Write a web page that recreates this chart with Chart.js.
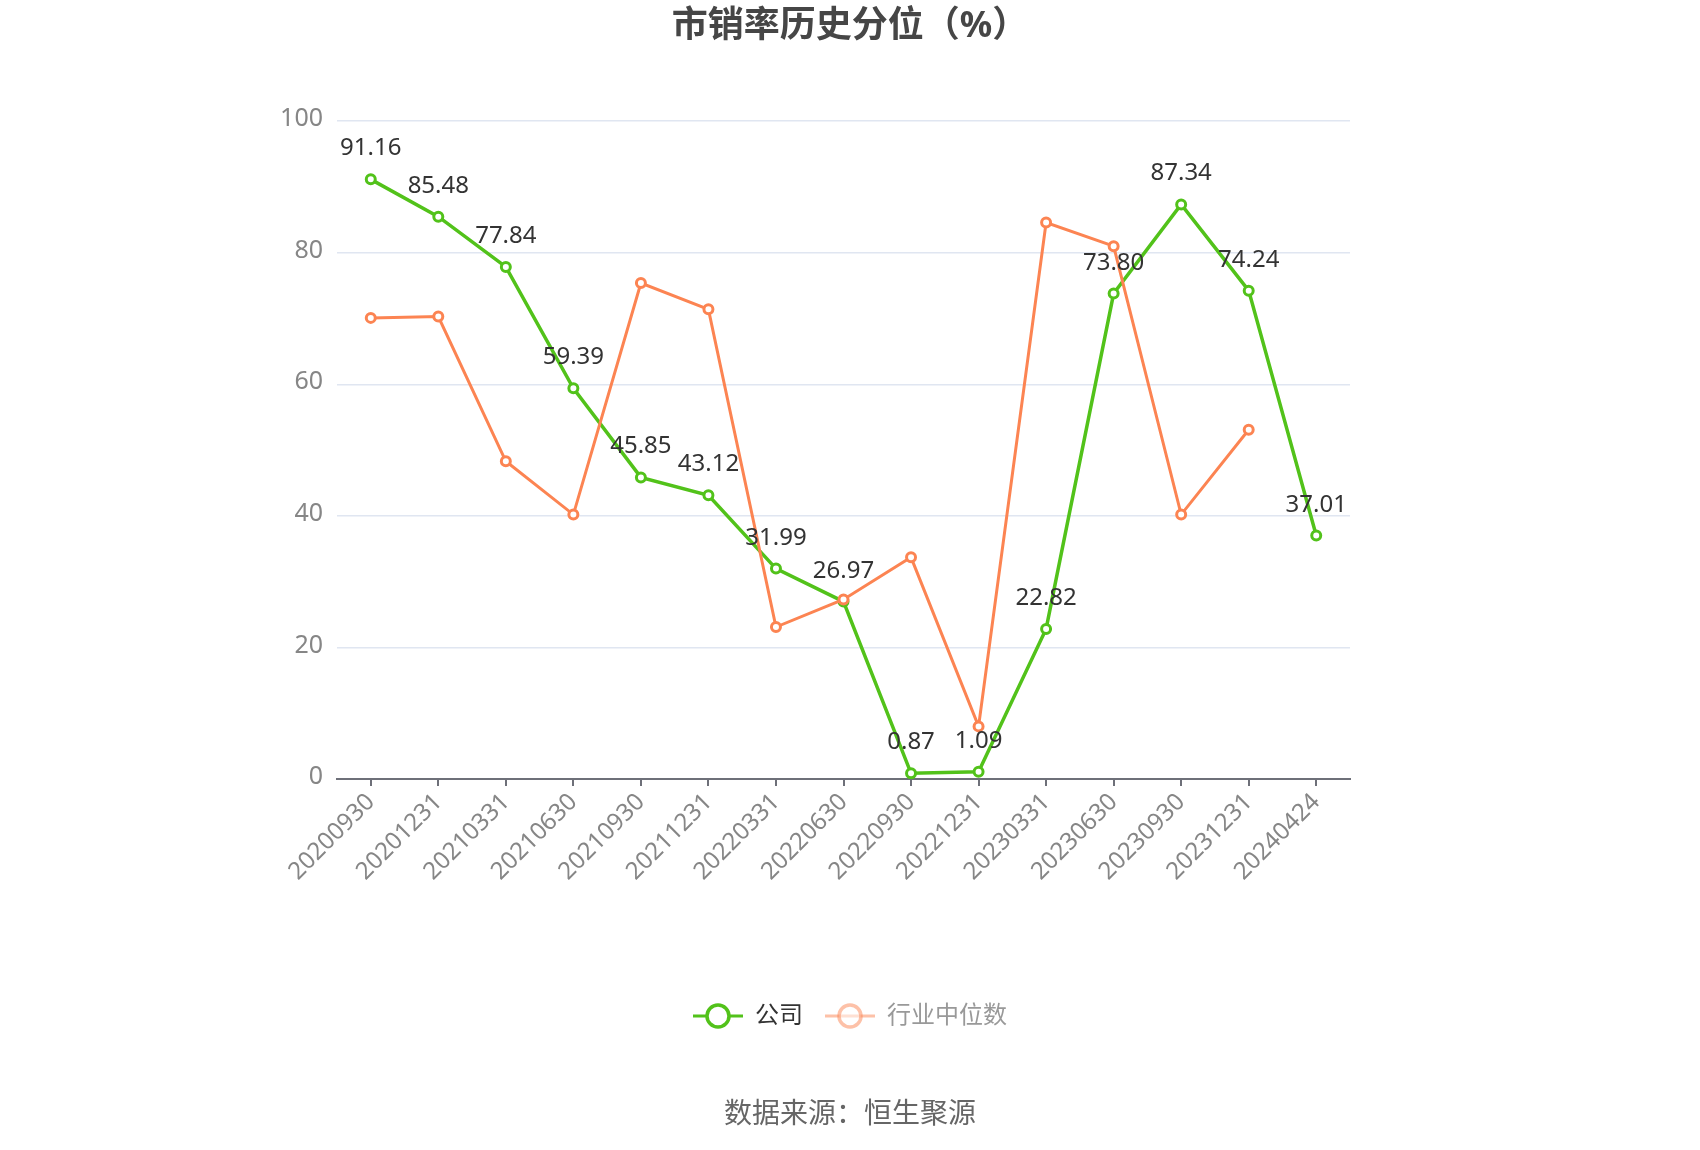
<!DOCTYPE html>
<html>
<head>
<meta charset="utf-8">
<script src="https://cdn.jsdelivr.net/npm/chart.js@4.4.1/dist/chart.umd.min.js"></script>
<style>
    html, body { margin: 0; padding: 0; background: #fff; }
    #wrap { width: 1700px; height: 1150px; }
</style>
</head>
<body>
<div id="wrap"><canvas id="chart" width="1700" height="1150"></canvas></div>
<script>
// == Data ==
const categories = ['20200930', '20201231', '20210331', '20210630', '20210930', '20211231', '20220331', '20220630',
    '20220930', '20221231', '20230331', '20230630', '20230930', '20231231', '20240424'];
const companyValues = [91.16, 85.48, 77.84, 59.39, 45.85, 43.12, 31.99, 26.97, 0.87, 1.09, 22.82, 73.80, 87.34, 74.24, 37.01];
const industryValues = [70.1, 70.3, 48.3, 40.2, 75.4, 71.4, 23.1, 27.3, 33.7, 8.0, 84.6, 81.0, 40.2, 53.1, null];
const yTicks = [0, 20, 40, 60, 80, 100];
const seriesNames = ['公司', '行业中位数'];

// == Styles ==
const FONT = '"Noto Sans", "Noto Sans CJK SC", sans-serif';
const GREEN = '#52c21a';
const ORANGE = '#fc8452';
const AXIS_GREY = '#6e7079';
const LABEL_GREY = '#868686';

Chart.defaults.font.family = FONT;

// == Utils ==
function legendIcon(color, alpha) {
    const c = document.createElement('canvas');
    c.width = 50;
    c.height = 30;
    const ctx = c.getContext('2d');
    ctx.globalAlpha = alpha;
    ctx.strokeStyle = color;
    ctx.lineWidth = 3;
    ctx.beginPath();
    ctx.moveTo(0, 15);
    ctx.lineTo(50, 15);
    ctx.stroke();
    ctx.beginPath();
    ctx.arc(25, 15, 11, 0, Math.PI * 2);
    ctx.fillStyle = '#fff';
    ctx.fill();
    ctx.lineWidth = 3.5;
    ctx.stroke();
    return c;
}

const legendIcons = [legendIcon(GREEN, 1), legendIcon(ORANGE, 0.5)];
const legendTextColors = ['#333333', '#999999'];

// values above the company line
const valueLabels = {
    id: 'valueLabels',
    afterDatasetsDraw(chart) {
        const ctx = chart.ctx;
        const meta = chart.getDatasetMeta(0);
        ctx.save();
        ctx.font = `24px ${FONT}`;
        ctx.fillStyle = '#333';
        ctx.textAlign = 'center';
        ctx.textBaseline = 'alphabetic';
        meta.data.forEach((pt, i) => {
            ctx.fillText(companyValues[i].toFixed(2), pt.x, pt.y - 24);
        });
        ctx.restore();
    }
};

const sourceNote = {
    id: 'sourceNote',
    afterDraw(chart) {
        const ctx = chart.ctx;
        ctx.save();
        ctx.font = `28px ${FONT}`;
        ctx.fillStyle = '#666';
        ctx.textAlign = 'center';
        ctx.textBaseline = 'middle';
        ctx.fillText('数据来源：恒生聚源', chart.width / 2, 1115);
        ctx.restore();
    }
};

// == Chart ==
new Chart(document.getElementById('chart'), {
    type: 'line',
    plugins: [valueLabels, sourceNote],
    data: {
        labels: categories,
        datasets: [{
            label: seriesNames[0],
            data: companyValues,
            borderColor: GREEN,
            backgroundColor: '#fff',
            borderWidth: 3.5,
            pointRadius: 4.5,
            pointBorderWidth: 3,
            pointBackgroundColor: '#fff',
            pointBorderColor: GREEN,
            tension: 0,
            order: 1
        }, {
            label: seriesNames[1],
            data: industryValues,
            borderColor: ORANGE,
            backgroundColor: '#fff',
            borderWidth: 3,
            pointRadius: 4.5,
            pointBorderWidth: 3,
            pointBackgroundColor: '#fff',
            pointBorderColor: ORANGE,
            tension: 0,
            order: 0
        }]
    },
    options: {
        responsive: false,
        animation: false,
        devicePixelRatio: 1,
        layout: { padding: { left: 0, right: 0, top: 0, bottom: 112 } },
        plugins: {
            title: {
                display: true,
                text: '市销率历史分位（%）',
                color: '#464646',
                font: { size: 36, weight: 'bold', family: FONT },
                padding: { top: 5, bottom: 73 }
            },
            legend: {
                position: 'bottom',
                labels: {
                    usePointStyle: true,
                    pointStyleWidth: 50,
                    padding: 22,
                    font: { size: 24 },
                    generateLabels: chart => chart.data.datasets.map((ds, i) => ({
                        text: ds.label,
                        pointStyle: legendIcons[i],
                        fontColor: legendTextColors[i],
                        fillStyle: ds.borderColor,
                        strokeStyle: ds.borderColor,
                        lineWidth: 0,
                        hidden: !chart.isDatasetVisible(i),
                        datasetIndex: i
                    }))
                }
            },
            tooltip: { enabled: false }
        },
        scales: {
            x: {
                type: 'category',
                offset: true,
                grid: { drawOnChartArea: false, drawTicks: true, tickLength: 7, color: AXIS_GREY, lineWidth: 2 },
                border: { display: true, color: AXIS_GREY, width: 2 },
                ticks: { autoSkip: false, minRotation: 45, maxRotation: 45, color: LABEL_GREY, font: { size: 24 }, padding: 2 },
                afterFit(scale) { scale.height = 203; }
            },
            y: {
                min: yTicks[0],
                max: yTicks[yTicks.length - 1],
                ticks: { stepSize: yTicks[1] - yTicks[0], color: LABEL_GREY, font: { size: 25 }, padding: 14, labelOffset: -2 },
                grid: { color: '#e0e6f1', lineWidth: 1.5, drawTicks: false },
                border: { display: false },
                afterFit(scale) { scale.width = 337; }
            },
            pad: {
                position: 'right',
                display: true,
                ticks: { display: false },
                grid: { display: false },
                border: { display: false },
                afterFit(scale) { scale.width = 350; }
            }
        }
    }
});
</script>
</body>
</html>
